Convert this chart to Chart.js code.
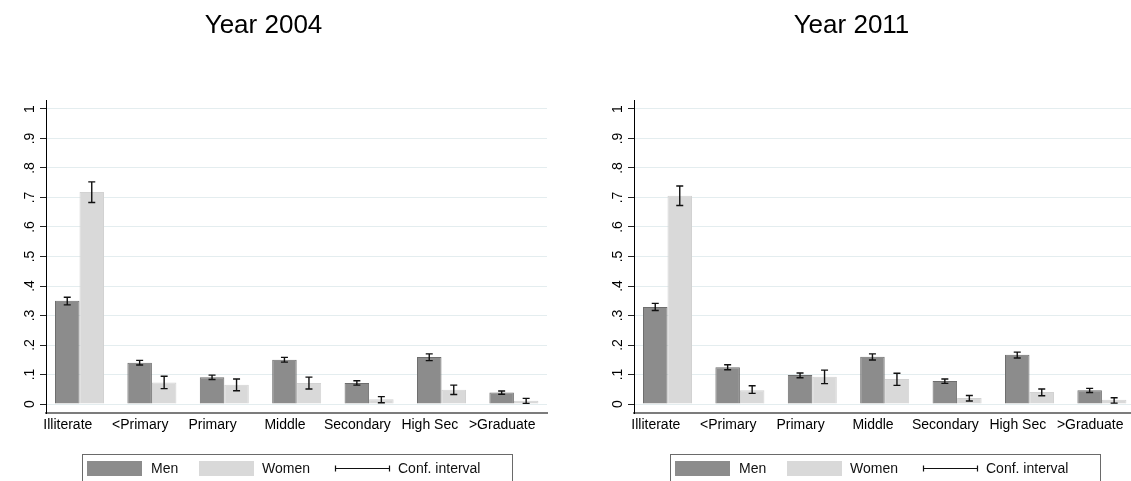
<!DOCTYPE html>
<html>
<head>
<meta charset="utf-8">
<script src="https://cdn.jsdelivr.net/npm/chart.js@4/dist/chart.umd.min.js"></script>
<style>
  html, body { margin: 0; padding: 0; background: #fff; overflow: hidden; width: 1131px; height: 481px; }
  canvas.panel { position: absolute; top: 0; }
  #c2004 { left: 0; }
  #c2011 { left: 588px; }
</style>
</head>
<body>
<canvas id="c2004" class="panel" width="588" height="481"></canvas>
<canvas id="c2011" class="panel" width="588" height="481"></canvas>
<script>
// Education categories on the x axis
const categories = ['Illiterate', '<Primary', 'Primary', 'Middle', 'Secondary', 'High Sec', '>Graduate'];

// Y axis ticks and their printed labels
const yTickValues = [0, 0.1, 0.2, 0.3, 0.4, 0.5, 0.6, 0.7, 0.8, 0.9, 1];
const yTickLabels = ['0', '.1', '.2', '.3', '.4', '.5', '.6', '.7', '.8', '.9', '1'];

const seriesNames = ['Men', 'Women'];
const legendLabels = ['Men', 'Women', 'Conf. interval'];
const panelTitles = ['Year 2004', 'Year 2011'];

// Year 2004: shares with 95% confidence bounds
const men2004      = [0.350, 0.140, 0.091, 0.150, 0.071, 0.159, 0.039];
const men2004Lo    = [0.336, 0.132, 0.083, 0.142, 0.064, 0.147, 0.033];
const men2004Hi    = [0.362, 0.148, 0.098, 0.158, 0.079, 0.170, 0.044];
const women2004    = [0.719, 0.073, 0.065, 0.071, 0.016, 0.048, 0.011];
const women2004Lo  = [0.683, 0.052, 0.045, 0.051, 0.004, 0.032, 0.002];
const women2004Hi  = [0.753, 0.094, 0.085, 0.091, 0.025, 0.064, 0.019];

// Year 2011: shares with 95% confidence bounds
const men2011      = [0.329, 0.125, 0.098, 0.160, 0.078, 0.167, 0.047];
const men2011Lo    = [0.317, 0.116, 0.089, 0.149, 0.070, 0.156, 0.039];
const men2011Hi    = [0.341, 0.133, 0.105, 0.170, 0.085, 0.176, 0.053];
const women2011    = [0.706, 0.047, 0.092, 0.085, 0.020, 0.041, 0.014];
const women2011Lo  = [0.673, 0.036, 0.069, 0.063, 0.010, 0.028, 0.003];
const women2011Hi  = [0.739, 0.062, 0.115, 0.104, 0.029, 0.051, 0.021];

const MEN_FILL = '#8c8c8c', MEN_EDGE = '#6e6e6e';
const WOMEN_FILL = '#d9d9d9', WOMEN_EDGE = '#d2d2d2';
const FONT = 'Liberation Sans, Arial, Helvetica, sans-serif';

// Confidence-interval whiskers, placed on each bar through the chart's scales
const ciWhiskers = {
  id: 'ciWhiskers',
  afterDatasetsDraw(chart, args, opts) {
    const ctx = chart.ctx;
    const y = chart.scales.y;
    ctx.save();
    ctx.strokeStyle = '#111';
    ctx.lineWidth = 1.4;
    chart.data.datasets.forEach((ds, di) => {
      const meta = chart.getDatasetMeta(di);
      meta.data.forEach((bar, i) => {
        const yl = y.getPixelForValue(opts.lo[di][i]);
        const yh = y.getPixelForValue(opts.hi[di][i]);
        const x = bar.x, c = opts.cap;
        ctx.beginPath();
        ctx.moveTo(x, yl); ctx.lineTo(x, yh);
        ctx.moveTo(x - c, yl); ctx.lineTo(x + c, yl);
        ctx.moveTo(x - c, yh); ctx.lineTo(x + c, yh);
        ctx.stroke();
      });
    });
    ctx.restore();
  }
};

// Panel heading
const panelTitle = {
  id: 'panelTitle',
  afterDraw(chart, args, opts) {
    const ctx = chart.ctx;
    ctx.save();
    ctx.fillStyle = '#000';
    ctx.font = opts.size + 'px ' + FONT;
    ctx.textAlign = 'center';
    ctx.textBaseline = 'alphabetic';
    ctx.fillText(opts.text, opts.x, opts.y);
    ctx.restore();
  }
};

// Boxed key under the plot: two swatches and a whisker sample
const boxedKey = {
  id: 'boxedKey',
  afterDraw(chart, args, opts) {
    const ctx = chart.ctx;
    const L = opts.left, T = opts.top;
    ctx.save();
    ctx.strokeStyle = '#6a6a6a';
    ctx.lineWidth = 1;
    ctx.strokeRect(L + 0.5, T + 0.5, opts.width, 60);
    const cy = T + 14;
    // swatches
    ctx.fillStyle = MEN_FILL;
    ctx.fillRect(L + 5, cy - 7, 55, 15);
    ctx.fillStyle = WOMEN_FILL;
    ctx.fillRect(L + 117, cy - 7, 55, 15);
    // whisker sample
    ctx.strokeStyle = '#111';
    ctx.lineWidth = 1.2;
    ctx.beginPath();
    ctx.moveTo(L + 253, cy + 0.5); ctx.lineTo(L + 308, cy + 0.5);
    ctx.moveTo(L + 253.5, cy - 2.5); ctx.lineTo(L + 253.5, cy + 3.5);
    ctx.moveTo(L + 307.5, cy - 2.5); ctx.lineTo(L + 307.5, cy + 3.5);
    ctx.stroke();
    // labels
    ctx.fillStyle = '#111';
    ctx.font = '14px ' + FONT;
    ctx.textAlign = 'left';
    ctx.textBaseline = 'middle';
    ctx.fillText(opts.labels[0], L + 69, cy + 1);
    ctx.fillText(opts.labels[1], L + 180, cy + 1);
    ctx.fillText(opts.labels[2], L + 316, cy + 1);
    ctx.restore();
  }
};

function toPoints(values) {
  return values.map((v, i) => ({ x: i, y: v }));
}

function makePanel(canvasId, title, men, menLo, menHi, women, womenLo, womenHi) {
  const tickFont = { family: FONT, size: 14 };
  return new Chart(document.getElementById(canvasId), {
    type: 'bar',
    data: {
      datasets: [
        { label: seriesNames[0], data: toPoints(men), backgroundColor: MEN_FILL,
          borderColor: MEN_EDGE, borderWidth: 1 },
        { label: seriesNames[1], data: toPoints(women), backgroundColor: WOMEN_FILL,
          borderColor: WOMEN_EDGE, borderWidth: 1 }
      ]
    },
    options: {
      responsive: false,
      animation: false,
      devicePixelRatio: 1,
      categoryPercentage: 0.677,
      barPercentage: 1.0,
      layout: { padding: { top: 100, left: 0, right: 41, bottom: 44 } },
      plugins: {
        legend: { display: false },
        tooltip: { enabled: false },
        ciWhiskers: { lo: [menLo, womenLo], hi: [menHi, womenHi], cap: 3.5 },
        panelTitle: { text: title, x: 263.5, y: 33, size: 26 },
        boxedKey: { left: 82, top: 454, width: 430, labels: legendLabels }
      },
      scales: {
        x: {
          type: 'linear',
          min: -0.4627,
          max: 6.4572,
          bounds: 'data',
          offset: false,
          grid: { display: false, drawTicks: false, offset: false },
          border: { display: true, color: '#7c7c7c', width: 2 },
          afterBuildTicks: (s) => { s.ticks = categories.map((_, i) => ({ value: i })); },
          afterFit: (s) => { s.height = 24; },
          ticks: {
            callback: (v) => categories[v],
            autoSkip: false, minRotation: 0, maxRotation: 0,
            labelOffset: -11.7,
            padding: 4, color: '#000', font: tickFont
          }
        },
        y: {
          min: -0.0305,
          max: 1.0305,
          bounds: 'data',
          afterBuildTicks: (s) => { s.ticks = yTickValues.map(v => ({ value: v })); },
          afterFit: (s) => { s.width = 46; },
          grid: { color: '#e4edef', lineWidth: 1, drawTicks: true, tickLength: 6,
                  tickColor: '#222', tickWidth: 1 },
          border: { display: true, color: '#000', width: 1 },
          ticks: {
            callback: (v, i) => yTickLabels[i],
            minRotation: 90, maxRotation: 90, crossAlign: 'center',
            padding: 4, color: '#000', font: tickFont
          }
        }
      }
    },
    plugins: [ciWhiskers, panelTitle, boxedKey]
  });
}

makePanel('c2004', panelTitles[0], men2004, men2004Lo, men2004Hi, women2004, women2004Lo, women2004Hi);
makePanel('c2011', panelTitles[1], men2011, men2011Lo, men2011Hi, women2011, women2011Lo, women2011Hi);
</script>
</body>
</html>
